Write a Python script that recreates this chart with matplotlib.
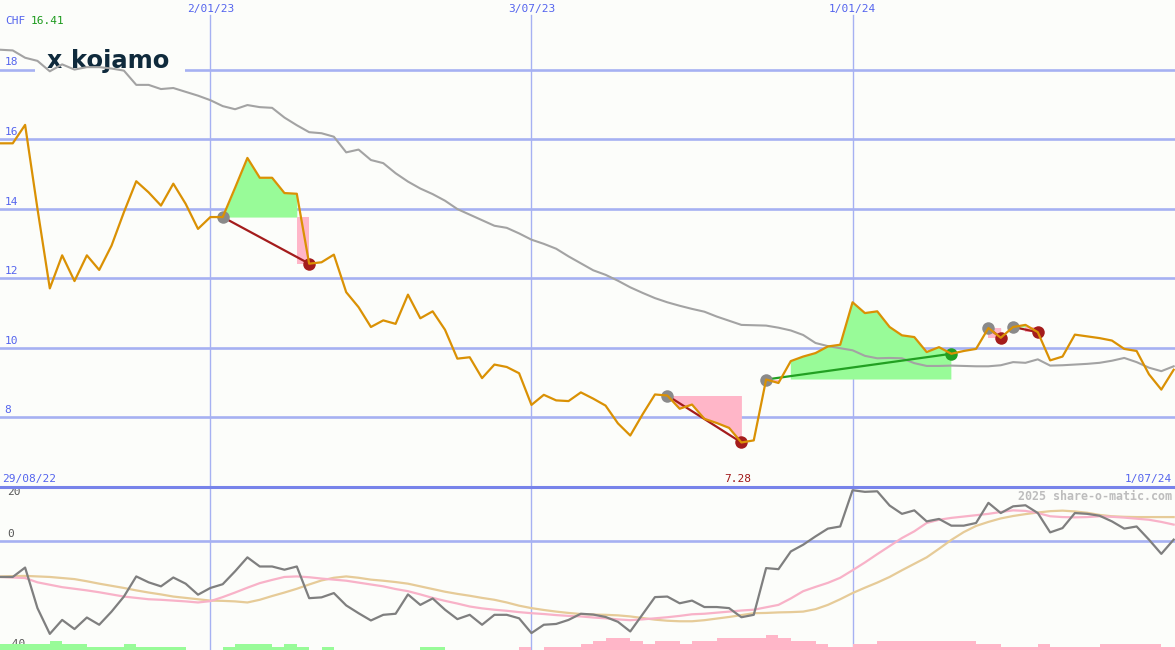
"""
Kojamo weekly share price (CHF) with trade signals, plus momentum panel.
"""

import numpy as np
import pandas as pd

import matplotlib
matplotlib.use("Agg")
import matplotlib.pyplot as plt
import matplotlib.dates as mdates
from matplotlib.lines import Line2D
from matplotlib.patches import Rectangle


# ---------------------------------------------------------------------------
# Data (weekly closes)
# ---------------------------------------------------------------------------

weeks = pd.date_range("2022-09-05", periods=96, freq="7D")

price = [15.88, 15.88, 16.41, 14.00, 11.71, 12.66, 11.92, 12.66, 12.24, 12.94,
         13.90, 14.79, 14.47, 14.09, 14.72, 14.14, 13.42, 13.76, 13.76, 14.60,
         15.46, 14.89, 14.89, 14.45, 14.43, 12.42, 12.46, 12.68, 11.60, 11.17,
         10.60, 10.79, 10.69, 11.53, 10.85, 11.05, 10.52, 9.69, 9.73, 9.13,
         9.52, 9.45, 9.27, 8.36, 8.65, 8.49, 8.47, 8.72, 8.54, 8.34,
         7.83, 7.48, 8.09, 8.66, 8.63, 8.25, 8.37, 7.96, 7.84, 7.70,
         7.28, 7.34, 9.09, 8.99, 9.62, 9.75, 9.85, 10.04, 10.09, 11.31,
         11.00, 11.05, 10.60, 10.36, 10.31, 9.88, 10.02, 9.83, 9.91, 9.97,
         10.57, 10.29, 10.60, 10.66, 10.45, 9.64, 9.75, 10.38, 10.33, 10.28,
         10.21, 9.97, 9.91, 9.24, 8.80, 9.37]

moving_avg = [18.57, 18.55, 18.34, 18.25, 17.95, 18.15, 18.00, 18.07, 18.07, 18.03,
              17.97, 17.56, 17.56, 17.44, 17.47, 17.36, 17.25, 17.12, 16.95, 16.86,
              16.98, 16.92, 16.90, 16.62, 16.40, 16.20, 16.17, 16.07, 15.62, 15.70,
              15.40, 15.31, 15.02, 14.78, 14.58, 14.42, 14.23, 13.99, 13.83, 13.67,
              13.51, 13.45, 13.29, 13.11, 12.99, 12.85, 12.63, 12.43, 12.23, 12.10,
              11.93, 11.74, 11.58, 11.43, 11.31, 11.21, 11.12, 11.04, 10.90, 10.78,
              10.66, 10.65, 10.64, 10.58, 10.50, 10.37, 10.14, 10.05, 9.99, 9.93,
              9.77, 9.70, 9.71, 9.70, 9.56, 9.48, 9.48, 9.49, 9.48, 9.47,
              9.47, 9.50, 9.59, 9.57, 9.67, 9.49, 9.50, 9.52, 9.54, 9.57,
              9.63, 9.71, 9.59, 9.43, 9.33, 9.47]

# (entry week index, exit week index)
trades = [(18, 25), (54, 60), (62, 77), (80, 81), (82, 84)]

momentum = [-13.5, -13.5, -10.0, -25.1, -34.7, -29.5, -32.9, -28.6, -31.3, -26.4,
            -20.8, -13.3, -15.5, -17.0, -13.7, -16.0, -20.1, -17.6, -16.2, -11.4,
            -6.2, -9.6, -9.6, -10.8, -9.6, -21.4, -21.1, -19.5, -24.1, -27.0,
            -29.7, -27.6, -27.2, -20.0, -23.9, -21.5, -25.7, -29.2, -27.6, -31.3,
            -27.6, -27.6, -28.9, -34.4, -31.3, -31.0, -29.5, -27.2, -27.5, -28.4,
            -30.2, -33.8, -27.4, -21.0, -20.8, -23.3, -22.3, -24.7, -24.7, -25.1,
            -28.5, -27.6, -10.2, -10.6, -4.0, -1.5, 1.6, 4.5, 5.3, 18.8,
            18.2, 18.4, 13.1, 10.0, 11.3, 7.2, 8.1, 5.6, 5.6, 6.6,
            14.1, 10.3, 12.8, 13.2, 10.3, 3.1, 4.7, 10.3, 10.0, 9.3,
            7.2, 4.5, 5.3, 0.4, -4.9, 0.4]

mom_fast = [-13.5, -13.7, -13.9, -15.5, -16.4, -17.3, -17.9, -18.5, -19.2, -20.0,
            -20.8, -21.3, -21.8, -22.0, -22.3, -22.6, -23.0, -22.5, -21.0, -19.3,
            -17.5, -15.8, -14.6, -13.5, -13.3, -13.6, -14.1, -14.5, -14.9, -15.6,
            -16.3, -17.0, -18.0, -18.8, -20.0, -21.3, -22.4, -23.4, -24.5, -25.2,
            -25.7, -26.1, -26.6, -27.0, -27.3, -27.7, -28.0, -28.2, -28.6, -28.9,
            -29.3, -29.6, -29.3, -28.9, -28.5, -28.0, -27.4, -27.2, -26.8, -26.4,
            -26.0, -25.7, -24.8, -23.9, -21.5, -18.8, -17.2, -15.7, -13.8, -11.0,
            -8.1, -5.0, -2.0, 1.0, 3.5, 6.6, 7.8, 8.5, 9.0, 9.5,
            10.0, 10.7, 11.3, 11.1, 10.3, 9.1, 8.8, 8.7, 8.8, 9.1,
            8.9, 8.6, 8.2, 7.8, 7.0, 6.0]

mom_slow = [-13.3, -13.2, -13.1, -13.3, -13.5, -13.9, -14.3, -15.1, -16.0, -16.8,
            -17.6, -18.5, -19.3, -20.0, -20.8, -21.3, -21.8, -22.3, -22.4, -22.6,
            -23.0, -22.0, -20.6, -19.3, -17.9, -16.3, -14.8, -13.8, -13.3, -13.8,
            -14.5, -14.9, -15.4, -16.0, -17.0, -18.0, -19.0, -19.8, -20.5, -21.3,
            -22.0, -23.0, -24.2, -25.1, -25.8, -26.4, -26.9, -27.3, -27.5, -27.6,
            -27.8, -28.2, -28.8, -29.4, -29.8, -30.0, -30.0, -29.6, -29.0, -28.4,
            -27.7, -27.0, -26.9, -26.7, -26.6, -26.4, -25.5, -23.9, -21.8, -19.5,
            -17.5, -15.6, -13.5, -11.0, -8.6, -6.2, -3.0, 0.3, 3.2, 5.5,
            7.0, 8.3, 9.2, 9.9, 10.5, 11.0, 11.2, 10.9, 10.4, 9.6,
            9.1, 8.9, 8.8, 8.8, 8.8, 8.8]

# signed strength bars (positive = green, negative = pink)
strength = [2, 2, 2, 2, 3, 2, 2, 1, 1, 1,
            2, 1, 1, 1, 1, 0, 0, 0, 1, 2,
            2, 2, 1, 2, 1, 0, 1, 0, 0, 0,
            0, 0, 0, 0, 1, 1, 0, 0, 0, 0,
            0, 0, -1, 0, -1, -1, -1, -2, -3, -4,
            -4, -3, -2, -3, -3, -2, -3, -3, -4, -4,
            -4, -4, -5, -4, -3, -3, -2, -1, -1, -2,
            -2, -3, -3, -3, -3, -3, -3, -3, -3, -2,
            -2, -1, -1, -1, -2, -1, -1, -1, -1, -2,
            -2, -2, -2, -2, -1, -1]

price_ticks = [8, 10, 12, 14, 16, 18]
date_marks = ["2023-01-02", "2023-07-03", "2024-01-01"]
date_labels = ["2/01/23", "3/07/23", "1/01/24"]

# ---------------------------------------------------------------------------
# Styling
# ---------------------------------------------------------------------------

BG = "#fcfdfa"
GRID = "#a6b1f2"
SEP = "#7783ea"
BLUE_TXT = "#5464ee"
ORANGE = "#da9104"
MA_GRAY = "#a3a3a3"
GAIN_FILL = "#98fb98"
LOSS_FILL = "#ffb6c8"
LOSS_RED = "#a41c1c"
GAIN_GREEN = "#22a022"
ENTRY_GRAY = "#8a8a8a"
NAVY = "#0f2a3c"
MONO = "DejaVu Sans Mono"
FS = 8.0

W, H = 1175, 650
UPPER_H = 487

xs = mdates.date2num(weeks)
price_arr = np.array(price)
px_per_day = 1.7643
x_lo = xs[0] - 0.23
x_hi = x_lo + W / px_per_day

fig = plt.figure(figsize=(W / 100, H / 100), dpi=100, facecolor=BG)
ax = fig.add_axes([0, (H - UPPER_H) / H, 1, UPPER_H / H])
osc = fig.add_axes([0, 0, 1, (H - UPPER_H) / H])

for a in (ax, osc):
    a.set_facecolor(BG)
    a.set_xticks([])
    a.set_yticks([])
    for s in a.spines.values():
        s.set_visible(False)
    a.set_xlim(x_lo, x_hi)

ax.set_ylim(6, 20)
osc.set_ylim(-40.7, 20)

# grid
for v in price_ticks:
    ax.axhline(v, color=GRID, lw=1.9, zorder=1)
    ax.text(0.004, v + 0.06, str(v), transform=ax.get_yaxis_transform(),
            ha="left", va="bottom", fontsize=FS, family=MONO, color=BLUE_TXT)
for d in date_marks:
    dn = mdates.date2num(pd.Timestamp(d))
    ax.axvline(dn, color=GRID, lw=1.0, ymax=1 - 15 / UPPER_H, zorder=1)
    osc.axvline(dn, color=GRID, lw=1.0, zorder=1)
osc.axhline(0, color=GRID, lw=1.9, zorder=1)

# logo box and text
ax.add_patch(Rectangle((35 / W, 1 - 82 / UPPER_H), 150 / W, 42 / UPPER_H,
                       transform=ax.transAxes, facecolor=BG, edgecolor="none",
                       zorder=1.5))
ax.text(47 / W, 1 - 68 / UPPER_H, "x", transform=ax.transAxes, ha="left",
        va="baseline", fontsize=17, fontweight="bold", color=NAVY, zorder=1.6)
ax.text(71 / W, 1 - 68 / UPPER_H, "kojamo", transform=ax.transAxes, ha="left",
        va="baseline", fontsize=17.5, fontweight="bold", color=NAVY, zorder=1.6)

# trade shading, links and markers
for k0, k1 in trades:
    xt = xs[k0:k1 + 1]
    p = price_arr[k0:k1 + 1]
    e = p[0]
    ax.fill_between(xt, p, e, where=p >= e, color=GAIN_FILL, lw=0, zorder=1.7)
    ax.fill_between(xt, p, e, where=p <= e, color=LOSS_FILL, lw=0, zorder=1.7)
    won = p[-1] > e
    if not won and p[-2] >= e:
        ax.fill_between(xt[-2:], e, p[-1], color=LOSS_FILL, lw=0, zorder=1.7)
    col = GAIN_GREEN if won else LOSS_RED
    ax.plot([xt[0], xt[-1]], [e, p[-1]], color=col, lw=1.6, zorder=3)
    ax.plot(xt[0], e, "o", color=ENTRY_GRAY, ms=9, mew=0, zorder=4)
    ax.plot(xt[-1], p[-1], "o", color=col, ms=9, mew=0, zorder=4)

ax.plot(xs, moving_avg, color=MA_GRAY, lw=1.5, zorder=2)
ax.plot(xs, price, color=ORANGE, lw=1.6, zorder=5)

# lower panel
osc.plot(xs, mom_slow, color="#e6cb98", lw=1.6, zorder=2)
osc.plot(xs, mom_fast, color="#f8b2c8", lw=1.6, zorder=2)
osc.plot(xs, momentum, color="#7f7f7f", lw=1.6, zorder=3)

bars = osc.twinx()
bars.set_ylim(0, (H - UPPER_H) / 3)
bars.set_xlim(x_lo, x_hi)
bars.set_yticks([])
for s in bars.spines.values():
    s.set_visible(False)
strength_arr = np.array(strength)
bars.bar(xs, np.abs(strength_arr), width=7, align="edge", lw=0,
         color=[GAIN_FILL if v > 0 else LOSS_FILL for v in strength_arr])

osc.text(0.006, 20, "20", transform=osc.get_yaxis_transform(), ha="left",
         va="top", fontsize=FS, family=MONO, color="#555555")
osc.text(0.006, 0.6, "0", transform=osc.get_yaxis_transform(), ha="left",
         va="bottom", fontsize=FS, family=MONO, color="#555555")
osc.text(0.004, -40.3, "-40", transform=osc.get_yaxis_transform(), ha="left",
         va="bottom", fontsize=FS, family=MONO, color="#555555")

# separator between panels
fig.add_artist(Line2D([0, 1], [(H - UPPER_H) / H] * 2, transform=fig.transFigure,
                      color=SEP, lw=2.2))

# figure texts
def fig_xy(x, y):
    return x / W, 1 - y / H

for d, lab in zip(date_marks, date_labels):
    xpix = (mdates.date2num(pd.Timestamp(d)) - x_lo) * px_per_day
    fig.text(*fig_xy(xpix, 9), lab, ha="center", va="center", fontsize=FS,
             family=MONO, color=BLUE_TXT)

fig.text(*fig_xy(5, 21), "CHF", ha="left", va="center", fontsize=FS,
         family=MONO, color=BLUE_TXT)
fig.text(*fig_xy(31, 21), f"{max(price):.2f}", ha="left", va="center",
         fontsize=FS, family=MONO, color="#1c9a1c")
fig.text(*fig_xy(2, 479), "29/08/22", ha="left", va="center", fontsize=FS,
         family=MONO, color=BLUE_TXT)
fig.text(*fig_xy(1172, 479), "1/07/24", ha="right", va="center", fontsize=FS,
         family=MONO, color=BLUE_TXT)
low_k = int(np.argmin(price_arr))
low_x = (xs[low_k] - x_lo) * px_per_day
fig.text(*fig_xy(low_x - 4, 479), f"{min(price):.2f}", ha="center", va="center",
         fontsize=FS, family=MONO, color="#a01818")
fig.text(*fig_xy(1172, 496), "2025 share-o-matic.com", ha="right", va="center",
         fontsize=8.4, family=MONO, fontweight="bold", color="#bdbdbd")

fig.savefig("out.png", dpi=100, facecolor=BG)
